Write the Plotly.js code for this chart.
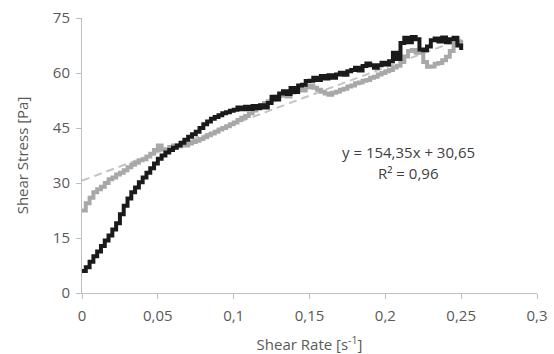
<!DOCTYPE html>
<html>
<head>
<meta charset="utf-8">
<script src="https://cdn.plot.ly/plotly-3.0.1.min.js"></script>
<style>html,body{margin:0;padding:0;background:#fff;}#chart{width:554px;height:354px;}</style>
</head>
<body>
<div id="chart"></div>
<script>
// Shear rate sampling grid (s^-1)
const shearRate = [
0,0.0025,0.005,0.0075,0.01,0.0125,0.015,0.0175,0.02,0.0225,
0.025,0.0275,0.03,0.0325,0.035,0.0375,0.04,0.0425,0.045,0.0475,
0.05,0.0525,0.055,0.0575,0.06,0.0625,0.065,0.0675,0.07,0.0725,
0.075,0.0775,0.08,0.0825,0.085,0.0875,0.09,0.0925,0.095,0.0975,
0.1,0.1025,0.105,0.1075,0.11,0.1125,0.115,0.1175,0.12,0.1225,
0.125,0.1275,0.13,0.1325,0.135,0.1375,0.14,0.1425,0.145,0.1475,
0.15,0.1525,0.155,0.1575,0.16,0.1625,0.165,0.1675,0.17,0.1725,
0.175,0.1775,0.18,0.1825,0.185,0.1875,0.19,0.1925,0.195,0.1975,
0.2,0.2025,0.205,0.2075,0.21,0.2125,0.215,0.2175,0.22,0.2225,
0.225,0.2275,0.23,0.2325,0.235,0.2375,0.24,0.2425,0.245,0.2475,0.25
];
// Black series: shear stress (Pa)
const stressBlack = [
6,7,8.5,10,11.3,12.8,14.3,15.7,17.3,19,
21.5,23.8,25.8,27.5,28.8,30.2,31.5,32.8,34,35.3,
36.6,37.5,38.3,39,39.6,40.2,41,41.8,42.6,43.3,
44,45,46,46.8,47.5,48,48.5,49,49.3,49.7,
50,50.6,50.1,50.8,50.2,51,50.4,51.2,50.6,51.8,
53.5,52.8,54.4,55,54.3,55.9,54.8,56.6,56.8,57.8,
57.9,58.7,58.1,59.2,58.5,59.4,58.7,59.6,60.1,59.5,
60.5,60.8,61.4,60.7,61.9,62.6,62.1,61.4,62.1,62.8,
62.3,63.2,65.5,63.8,68.2,69.6,68.4,69.8,69.2,66.4,
66.2,67.2,68.9,69.4,68.6,69.7,68.4,69.2,69.6,67.5,66.3
];
// Gray series: shear stress (Pa)
const stressGray = [
22.5,24.5,26,27.5,28.3,29,30,31,31.5,32.3,
32.8,33.5,34.3,35,35.5,36.2,36.5,37.2,38,39,
40.2,39.2,38.8,39.8,40.2,40,40.5,40.2,40.8,41.2,
41.5,42,42.5,43,43.5,44,44.6,45,45.5,46,
46.5,47.2,47.8,48.3,49,49.8,50.5,51.2,51.8,52.3,
52.8,53.5,53.8,54.4,53.6,54.7,55,55.7,55.2,56.1,
56.6,56,55.4,54.9,54.4,54.1,54.6,54.9,55.4,55.7,
56.3,56.6,57.2,57.4,57.9,58.1,58.7,59,59.6,60,
60.5,60.8,61.5,62,63,64.5,66,66.3,65.5,65.5,
63,61.7,61.8,62.5,62.7,63.5,64.4,66,68,68.5,67.5
];
// Linear trend: y = 154.35x + 30.65
const trendSlope = 154.35;
const trendIntercept = 30.65;
const trendX = [0, 0.25];
const trendY = trendX.map(v => trendSlope * v + trendIntercept);

const xTickVals = [0, 0.05, 0.1, 0.15, 0.2, 0.25, 0.3];
const xTickText = ['0', '0,05', '0,1', '0,15', '0,2', '0,25', '0,3'];
const yTickVals = [0, 15, 30, 45, 60, 75];
const yTickText = ['0', '15', '30', '45', '60', '75'];

const font = 'Open Sans, Noto Sans, sans-serif';
const txt = '#595959';

const traces = [
  {x: trendX, y: trendY, mode: 'lines', line: {color: '#c4c4c4', width: 2, dash: '8px,5px'}, hoverinfo: 'skip'},
  {x: shearRate, y: stressGray, mode: 'lines', line: {color: '#a8a8a8', width: 4, shape: 'hv'}},
  {x: shearRate, y: stressBlack, mode: 'lines', line: {color: '#1a1a1a', width: 4, shape: 'hv'}}
];

const layout = {
  width: 554, height: 354,
  margin: {l: 82, r: 17, t: 18, b: 61},
  paper_bgcolor: '#fff', plot_bgcolor: '#fff',
  showlegend: false,
  font: {family: font, size: 15, color: txt},
  xaxis: {
    range: [0, 0.3], tickvals: xTickVals, ticktext: xTickText,
    showgrid: false, zeroline: false, showline: true, linecolor: '#bfbfbf', linewidth: 1,
    ticks: 'outside', ticklen: 5, tickcolor: '#bfbfbf', ticklabelstandoff: 4,
    tickfont: {family: font, size: 15, color: txt},
    title: {text: 'Shear Rate [s<sup>-1</sup>]', font: {family: font, size: 15, color: txt}, standoff: 16}
  },
  yaxis: {
    range: [0, 75], tickvals: yTickVals, ticktext: yTickText,
    showgrid: false, zeroline: false, showline: true, linecolor: '#bfbfbf', linewidth: 1,
    ticks: 'outside', ticklen: 5, tickcolor: '#bfbfbf', ticklabelstandoff: 3,
    tickfont: {family: font, size: 15, color: txt},
    title: {text: 'Shear Stress [Pa]', font: {family: font, size: 15, color: txt}, standoff: 20}
  },
  annotations: [
    {x: 0.215, y: 38.4, xref: 'x', yref: 'y', text: 'y = 154,35x + 30,65', showarrow: false,
     font: {family: font, size: 15, color: '#404040'}},
    {x: 0.215, y: 32.6, xref: 'x', yref: 'y', text: 'R² = 0,96', showarrow: false,
     font: {family: font, size: 15, color: '#404040'}}
  ]
};

Plotly.newPlot('chart', traces, layout, {displayModeBar: false, staticPlot: true});
</script>
</body>
</html>
